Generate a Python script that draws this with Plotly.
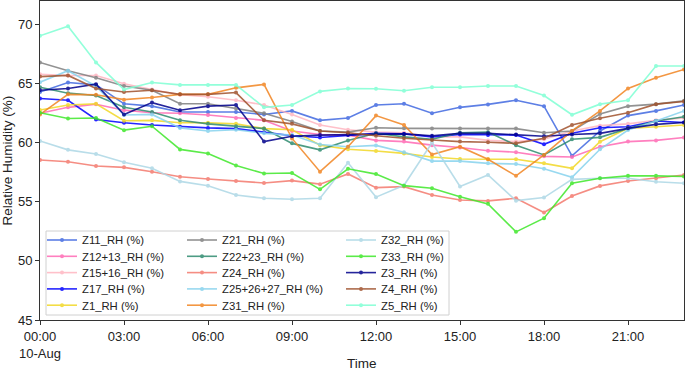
import plotly.graph_objects as go

TIMES = ["2021-08-10 %02d:00" % h for h in range(24)]

Z11 = [64.3, 65.1, 64.9, 63.3, 63.1, 62.6, 62.6, 62.6, 62.4, 62.7, 61.9, 62.1, 63.2, 63.3, 62.5, 63.0, 63.25, 63.6, 63.1, 58.9, 61.0, 62.3, 62.7, 63.2]
Z12_13 = [62.5, 63.0, 63.26, 62.76, 62.54, 62.5, 62.35, 62.1, 61.9, 61.0, 60.7, 60.65, 60.2, 60.1, 59.8, 59.6, 59.33, 59.2, 58.85, 58.8, 59.66, 60.1, 60.2, 60.45]
Z15_16 = [65.8, 65.7, 65.7, 65.0, 64.5, 64.06, 63.9, 63.6, 63.2, 62.4, 61.5, 61.1, 60.9, 60.85, 60.5, 60.5, 60.2, 60.1, 60.3, 61.0, 61.45, 61.6, 61.9, 62.1]
Z17 = [63.75, 63.6, 61.97, 61.7, 61.5, 61.35, 61.26, 61.2, 60.9, 60.6, 60.45, 60.65, 60.8, 60.75, 60.5, 60.7, 60.65, 60.65, 59.87, 60.8, 61.27, 61.36, 61.84, 61.72]
Z1 = [62.77, 63.2, 63.3, 61.86, 61.9, 61.7, 61.7, 61.6, 61.2, 61.1, 59.8, 59.45, 59.3, 59.1, 58.8, 58.63, 58.6, 58.6, 58.26, 57.84, 60.09, 61.22, 61.36, 61.5]
Z21 = [66.8, 66.1, 65.5, 64.8, 64.45, 63.3, 63.3, 62.9, 62.5, 61.8, 61.0, 60.9, 61.27, 61.22, 61.2, 61.2, 61.2, 61.2, 60.85, 61.0, 62.43, 63.1, 63.27, 63.55]
Z22_23 = [64.7, 64.2, 64.0, 63.0, 62.6, 61.9, 61.6, 61.4, 61.2, 59.95, 59.4, 60.2, 60.8, 60.5, 60.3, 60.85, 60.9, 59.8, 58.97, 60.3, 60.46, 61.2, 61.84, 62.2]
Z24 = [58.54, 58.4, 58.03, 57.92, 57.55, 57.13, 56.93, 56.76, 56.6, 56.8, 56.5, 57.36, 56.2, 56.29, 55.58, 55.16, 55.08, 55.3, 54.1, 55.5, 56.35, 56.77, 57.0, 57.27]
Z25_26_27 = [65.13, 66.1, 64.8, 62.35, 62.4, 61.26, 61.0, 61.1, 60.8, 60.65, 59.86, 59.67, 59.78, 59.2, 58.45, 58.45, 58.26, 58.2, 57.8, 57.08, 59.45, 61.08, 61.84, 62.7]
Z31 = [62.4, 64.1, 64.07, 63.65, 63.83, 64.1, 64.1, 64.65, 64.94, 60.37, 57.55, 59.67, 62.3, 61.5, 59.0, 59.67, 58.6, 57.2, 58.97, 61.0, 62.7, 64.6, 65.5, 66.2]
Z32 = [60.15, 59.4, 59.05, 58.35, 57.85, 56.73, 56.37, 55.58, 55.3, 55.22, 55.3, 58.3, 55.4, 56.4, 60.0, 56.3, 57.27, 55.1, 55.36, 56.9, 57.0, 57.0, 56.7, 56.57]
Z33 = [62.54, 62.06, 62.1, 61.07, 61.4, 59.44, 59.1, 58.07, 57.4, 57.44, 56.06, 57.8, 57.35, 56.37, 56.15, 55.44, 54.83, 52.46, 53.62, 56.57, 57.0, 57.2, 57.2, 57.15]
Z3 = [64.45, 64.6, 64.96, 62.4, 63.4, 62.76, 63.1, 63.2, 60.1, 60.55, 60.65, 60.7, 60.75, 60.75, 60.6, 60.8, 60.8, 60.7, 60.55, 60.7, 60.8, 61.22, 61.56, 61.72]
Z4 = [65.6, 65.7, 64.6, 64.3, 64.45, 64.1, 64.1, 64.25, 61.9, 61.6, 61.0, 60.85, 60.6, 60.38, 60.23, 60.1, 60.04, 59.95, 60.38, 61.5, 62.07, 62.54, 63.27, 63.5]
Z5 = [69.05, 69.86, 66.8, 64.5, 65.1, 64.9, 64.9, 64.9, 63.0, 63.2, 64.35, 64.6, 64.57, 64.4, 64.7, 64.7, 64.8, 64.8, 64.0, 62.37, 63.27, 63.6, 66.5, 66.5]

NAMES = ["Z11_RH (%)", "Z12+13_RH (%)", "Z15+16_RH (%)", "Z17_RH (%)", "Z1_RH (%)",
         "Z21_RH (%)", "Z22+23_RH (%)", "Z24_RH (%)", "Z25+26+27_RH (%)", "Z31_RH (%)",
         "Z32_RH (%)", "Z33_RH (%)", "Z3_RH (%)", "Z4_RH (%)", "Z5_RH (%)"]
SERIES = [Z11, Z12_13, Z15_16, Z17, Z1, Z21, Z22_23, Z24, Z25_26_27, Z31, Z32, Z33, Z3, Z4, Z5]
COLORS = ["#4169E1", "#FF69B4", "#FFB6C1", "#0000FF", "#F2D826",
          "#808080", "#2E8B6F", "#F47A6E", "#87D3EE", "#F28522",
          "#ADD8E6", "#3FE82A", "#00008B", "#A0522D", "#7FFFD4"]

TICK_VALS = ["2021-08-10 00:00", "2021-08-10 03:00", "2021-08-10 06:00", "2021-08-10 09:00",
             "2021-08-10 12:00", "2021-08-10 15:00", "2021-08-10 18:00", "2021-08-10 21:00"]
TICK_TEXT = ["00:00<br>10-Aug", "03:00", "06:00", "09:00", "12:00", "15:00", "18:00", "21:00"]

W, H = 685, 370
L, R, T, B = 40, 1, 1, 50
PW, PH = W - L - R, H - T - B
FONT = "Liberation Sans, Arial, sans-serif"

fig = go.Figure()
layout_legends = {}
col_text_x = [82, 222, 381]
row_y = [240, 256.3, 272.6, 288.9, 305.2]
for i, (name, ys, c) in enumerate(zip(NAMES, SERIES, COLORS)):
    lname = "legend" if i == 0 else "legend%d" % (i + 1)
    fig.add_trace(go.Scatter(
        x=TIMES, y=ys, name=name, mode="lines+markers",
        line=dict(color=c, width=1.6), marker=dict(color=c, size=4),
        opacity=0.85, legend=lname,
    ))
    col, row = divmod(i, 5)
    px = col_text_x[col] - 40
    py = row_y[row]
    layout_legends[lname] = dict(
        x=(px - L) / PW, y=(H - B - py) / PH, xanchor="left", yanchor="middle",
        bgcolor="rgba(0,0,0,0)", borderwidth=0, font=dict(size=11.3, family=FONT, color="#222"),
        itemwidth=30, tracegroupgap=0,
    )

fig.update_layout(
    width=W, height=H, margin=dict(l=L, r=R, t=T, b=B, autoexpand=False),
    plot_bgcolor="white", paper_bgcolor="white",
    font=dict(family=FONT, size=13, color="#222"),
    showlegend=True,
    **layout_legends,
)
fig.add_shape(type="rect", xref="paper", yref="paper",
              x0=(46 - L) / PW, x1=(449 - L) / PW, y0=(H - B - 315) / PH, y1=(H - B - 231) / PH,
              line=dict(color="#d0d0d0", width=1), fillcolor="rgba(255,255,255,0.8)", layer="below")

fig.add_annotation(text="Time", xref="paper", yref="paper", x=0.5, y=(H - B - 363) / PH,
                   xanchor="center", yanchor="middle", showarrow=False, font=dict(size=13.5, color="#222"))
fig.add_annotation(text="Relative Humidity (%)", xref="paper", yref="paper", x=(7 - L) / PW, y=0.5,
                   xanchor="center", yanchor="middle", textangle=-90, showarrow=False,
                   font=dict(size=13.5, color="#222"))

fig.update_xaxes(
    range=["2021-08-10 00:00", "2021-08-10 23:00"], tickvals=TICK_VALS, ticktext=TICK_TEXT,
    showgrid=False, zeroline=False, showline=True, linecolor="#333", linewidth=1, mirror=True,
    ticks="outside", ticklen=4, tickcolor="#333", tickfont=dict(size=13), automargin=False,
)
fig.update_yaxes(
    range=[45, 72], tickvals=[45, 50, 55, 60, 65, 70],
    showgrid=False, zeroline=False, showline=True, linecolor="#333", linewidth=1, mirror=True,
    ticks="outside", ticklen=4, tickcolor="#333", tickfont=dict(size=13), automargin=False,
)

fig.write_html("out.html", config={"displayModeBar": False},
               post_script="document.body.style.margin='0';document.body.style.overflow='hidden';")
